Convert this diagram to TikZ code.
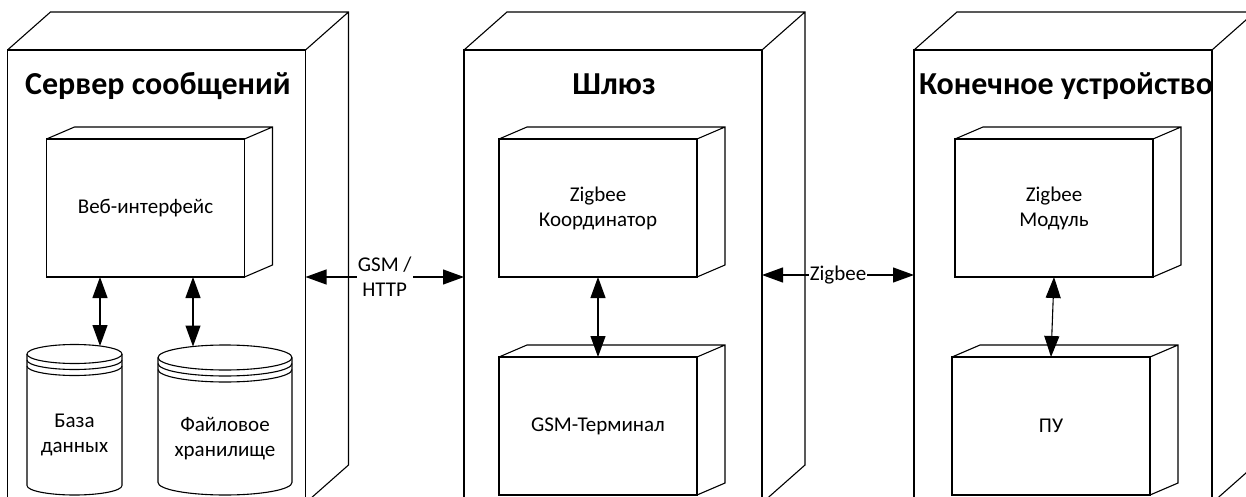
\documentclass[tikz,border=0pt]{standalone}
\usepackage{fontspec}
\setmainfont{Carlito}
\usetikzlibrary{arrows.meta,calc}
\begin{document}
\begin{tikzpicture}[x=1pt,y=-1pt,line width=1.1pt,
  box/.style={draw, rectangle, inner sep=0pt, outer sep=0pt},
  tier/.style={box, minimum width=298pt, minimum height=453pt},
  part/.style={box, fill=white, minimum width=198pt, minimum height=138pt, align=center, font=\fontsize{21}{25}\selectfont},
  store/.style={inner sep=0pt, outer sep=0pt, align=center, font=\fontsize{21}{25}\selectfont},
  title/.style={anchor=base, font=\fontsize{32}{38}\selectfont\bfseries},
  link/.style={arrows={Triangle[length=21pt,width=15pt]-Triangle[length=21pt,width=15pt]}},
  lbl/.style={fill=white, inner sep=1pt, align=center, font=\fontsize{21}{25}\selectfont}]
\useasboundingbox (0,0) rectangle (1246,497);
\clip (0,0) rectangle (1246,497);
\node[tier] (srv) at (156.5,276.5) {};
\node[tier] (gw) at (613,276.5) {};
\node[tier] (dev) at (1063,276.5) {};
\node[title] (srvt) at (158,95) {Сервер сообщений};
\node[title] (gwt) at (614,95) {Шлюз};
\node[title] (devt) at (1066,95) {Конечное устройство};
\node[part] (web) at (145.5,208) {Веб-интерфейс};
\node[part] (coord) at (598,208) {Zigbee\\Координатор};
\node[part] (term) at (598,426) {GSM-Терминал};
\node[part] (zmod) at (1054,208) {Zigbee\\Модуль};
\node[part] (pu) at (1051,426) {ПУ};
\foreach \n/\dx/\dy in {srv/43/38, gw/43/38, dev/43/38, web/28/12, coord/28/12, term/28/12, zmod/28/12, pu/28/12}
  \draw (\n.north west) -- ++(\dx,-\dy) -- ($(\n.north east)+(\dx,-\dy)$) -- ($(\n.south east)+(\dx,-\dy)$) -- (\n.south east) (\n.north east) -- ++(\dx,-\dy);
\node[store, minimum width=95pt, minimum height=119.5pt] (db) at (74.5,435.25) {База\\данных};
\node[store, minimum width=134pt, minimum height=113pt] (fs) at (225,438.5) {Файловое\\хранилище};
\foreach \n/\rx/\ry in {db/47.5pt/9.5pt, fs/67pt/12.5pt} {
  \draw ([yshift=12pt+\ry]\n.north west) -- ([yshift=\ry]\n.south west) arc[start angle=180, end angle=360, x radius=\rx, y radius=\ry] -- ([yshift=12pt+\ry]\n.north east);
  \draw ([yshift=12pt+\ry]\n.north) ellipse [x radius=\rx, y radius=\ry];
  \draw ([yshift=6pt+\ry]\n.north west) arc[start angle=180, end angle=360, x radius=\rx, y radius=\ry];
  \draw ([yshift=\ry]\n.north west) arc[start angle=180, end angle=360, x radius=\rx, y radius=\ry];
}
\coordinate (db-rim) at (100,346);
\coordinate (fs-rim) at (193,346.5);
\draw[link] (web.south -| db-rim) -- (db-rim);
\draw[link] (web.south -| fs-rim) -- (fs-rim);
\draw[link] (coord.south) -- (term.north);
\draw[link] (zmod.south) -- (pu.north);
\draw[link] (srv.east |- web.south) -- node[lbl] (gsm) {GSM /\\HTTP} (gw.west |- web.south);
\draw[link] ([yshift=2pt]gw.east |- coord.south) -- node[lbl] (zb) {Zigbee} ([yshift=2pt]dev.west |- coord.south);
\end{tikzpicture}
\end{document}
